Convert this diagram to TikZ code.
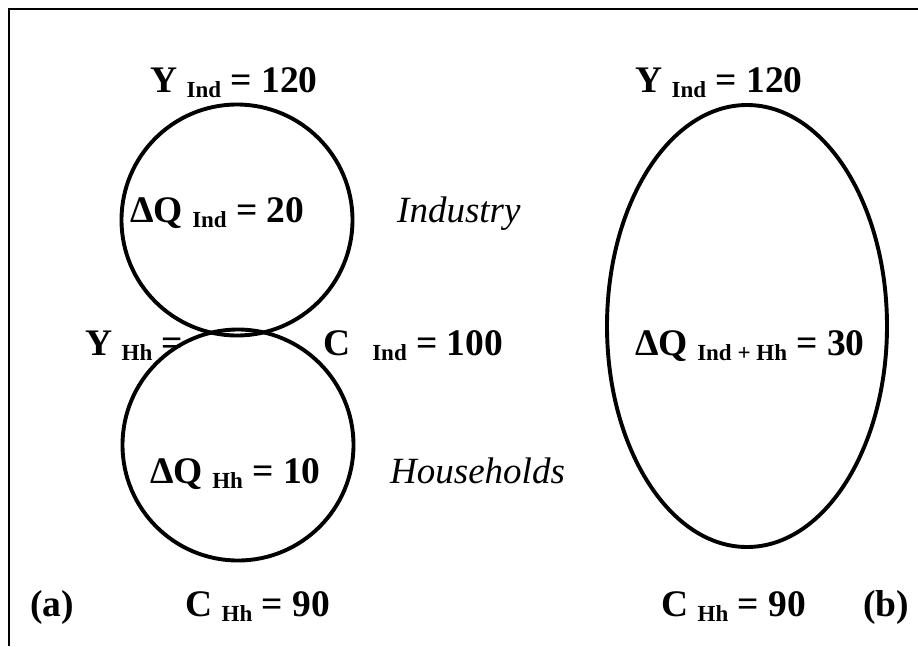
\documentclass[tikz,border=0pt]{standalone}
\usepackage{fontspec}
\setmainfont{Liberation Serif}
\usetikzlibrary{shapes.geometric}
\newcommand\sbs[1]{\raisebox{-5pt}{\fontsize{23}{23}\selectfont #1}}
\tikzset{
  lbl/.style={anchor=base west, inner sep=0pt, font=\fontsize{37.5}{40}\selectfont\bfseries},
  itl/.style={anchor=base west, inner sep=0pt, font=\fontsize{37}{40}\selectfont\itshape},
  ring/.style={draw, line width=3.9pt, inner sep=0pt},
  frame/.style={line width=2pt}
}
\begin{document}
\begin{tikzpicture}[x=1pt, y=-1pt]
\useasboundingbox (0,0) rectangle (918,646);
\coordinate (fa) at (9,646);
\coordinate (fb) at (9,9);
\coordinate (fc) at (918,9);
\draw[frame] (fa) -- (fb) -- (fc);
% texts
\node[lbl] (t1) at (150,92) {Y \sbs{Ind} = 120};
\node[lbl] (t2) at (635,92) {Y \sbs{Ind} = 120};
\node[lbl] (dqi) at (130,222) {ΔQ \sbs{Ind} = 20};
\node[itl] (ind) at (397,222) {Industry};
\node[lbl] (yhh) at (85,355) {Y \sbs{Hh} =};
\node[lbl] (cind) at (323,355) {C\hspace{22pt}\sbs{Ind} = 100};
\node[lbl] (dqh) at (150,483) {ΔQ \sbs{Hh} = 10};
\node[itl] (hh) at (390,483) {Households};
\node[lbl] (dqa) at (635,355) {ΔQ \sbs{Ind + Hh} = 30};
\node[lbl] (la) at (30,616) {(a)};
\node[lbl] (ch1) at (185,616) {C \sbs{Hh} = 90};
\node[lbl] (ch2) at (661,616) {C \sbs{Hh} = 90};
\node[lbl] (lb) at (863,616) {(b)};
% shapes
\node[ring, circle, minimum size=231pt] (cu) at (237,220) {};
\node[ring, circle, minimum size=231pt] (cl) at (238,445) {};
\node[ring, ellipse, minimum width=280pt, minimum height=442pt] (el) at (747,326) {};
\end{tikzpicture}
\end{document}
